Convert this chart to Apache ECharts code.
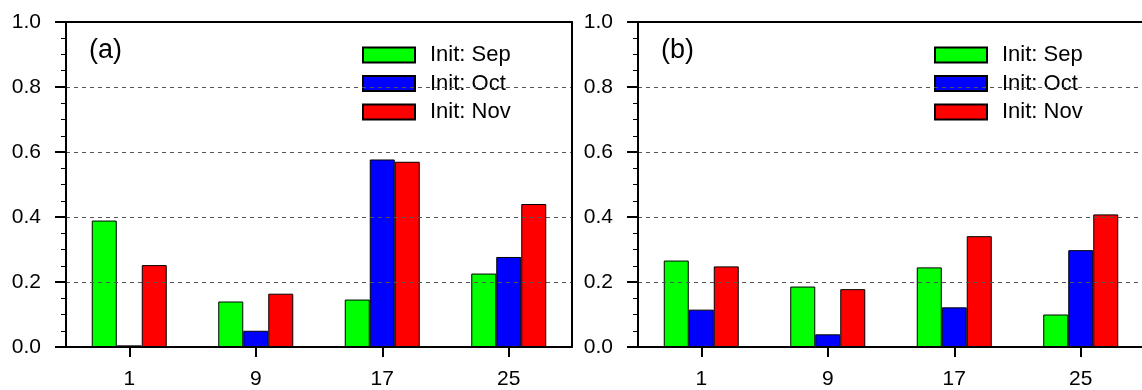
<!DOCTYPE html>
<html>
<head>
<meta charset="utf-8">
<script src="https://cdn.jsdelivr.net/npm/echarts@6/dist/echarts.min.js"></script>
<style>
html,body{margin:0;padding:0;background:#fff;overflow:hidden;}
#c{width:1150px;height:390px;}
</style>
</head>
<body>
<div id="c"></div>
<script>
// ---- data ----
var xTicks = [1, 9, 17, 25];
var seriesNames = ['Init: Sep', 'Init: Oct', 'Init: Nov'];
var panelLabels = ['(a)', '(b)'];

var aSep = [0.389, 0.140, 0.146, 0.226];
var aOct = [0.005, 0.050, 0.577, 0.277];
var aNov = [0.252, 0.164, 0.570, 0.440];

var bSep = [0.266, 0.186, 0.245, 0.100];
var bOct = [0.115, 0.039, 0.122, 0.298];
var bNov = [0.248, 0.178, 0.341, 0.408];

var colors = ['#00ff00', '#0000ff', '#ff0000'];

// ---- build ----
var FONT = 'Liberation Sans, Arial, Helvetica, sans-serif';
var panels = [
  { left: 66, legendLeft: 362, labelLeft: 89, rightSpine: true, data: [aSep, aOct, aNov] },
  { left: 638, legendLeft: 934, labelLeft: 661, rightSpine: true, data: [bSep, bOct, bNov] }
];

var grids = [], xAxes = [], yAxes = [], series = [], legends = [], titles = [];

panels.forEach(function (p, i) {
  grids.push({ left: p.left, top: 22, width: 506, height: 325, containLabel: false, outerBoundsMode: 'none' });
  xAxes.push({
    type: 'value', gridIndex: i, min: -3, max: 29, position: 'bottom', z: 6,
    axisLine: { show: true, onZero: false, lineStyle: { color: '#000', width: 2 } },
    axisTick: { show: true, customValues: xTicks, length: 10, inside: false, lineStyle: { color: '#000', width: 2 } },
    axisLabel: { show: true, customValues: xTicks, margin: 22, color: '#000', fontSize: 21, fontFamily: FONT },
    splitLine: { show: false }
  });
  xAxes.push({
    type: 'value', gridIndex: i, min: -3, max: 29, position: 'top', z: 6,
    axisLine: { show: true, onZero: false, lineStyle: { color: '#000', width: 2 } },
    axisTick: { show: false }, axisLabel: { show: false }, splitLine: { show: false }
  });
  yAxes.push({
    type: 'value', gridIndex: i, min: 0, max: 1, interval: 0.2, position: 'left', z: 5,
    axisLine: { show: true, onZero: false, lineStyle: { color: '#000', width: 2 } },
    axisTick: { show: true, length: 11, inside: false, lineStyle: { color: '#000', width: 2 } },
    minorTick: { show: true, splitNumber: 4, length: 5, lineStyle: { color: '#000', width: 1 } },
    axisLabel: { margin: 25, color: '#000', fontSize: 21, fontFamily: FONT,
      formatter: function (v) { return v.toFixed(1); } },
    splitLine: { show: true, lineStyle: { color: '#555', width: 1, type: [4, 4] } },
    minorSplitLine: { show: false }
  });
  yAxes.push({
    type: 'value', gridIndex: i, min: 0, max: 1, interval: 0.2, position: 'right', z: 6,
    axisLine: { show: p.rightSpine, onZero: false, lineStyle: { color: '#000', width: 2 } },
    axisTick: { show: false }, axisLabel: { show: false }, splitLine: { show: false }
  });

  p.data.forEach(function (vals, k) {
    series.push({
      type: 'bar', name: seriesNames[k],
      xAxisIndex: i * 2, yAxisIndex: i * 2,
      barWidth: 25, barGap: '0%',
      itemStyle: { color: colors[k], borderColor: '#000', borderWidth: 1 },
      emphasis: { disabled: true },
      data: xTicks.map(function (x, j) { return [x, vals[j]]; })
    });
  });

  legends.push({
    orient: 'vertical', left: p.legendLeft, top: 44, padding: 0,
    itemWidth: 52, itemHeight: 15, itemGap: 6.5, icon: 'rect',
    selectedMode: false,
    data: seriesNames,
    textStyle: { color: '#000', fontSize: 22, lineHeight: 22, fontFamily: FONT, padding: [0, 0, 0, 10] }
  });

  titles.push({
    text: panelLabels[i], left: p.labelLeft, top: 37, padding: 0,
    textStyle: { color: '#000', fontSize: 27, fontWeight: 'normal', fontFamily: FONT }
  });
});

var chart = echarts.init(document.getElementById('c'), null, { renderer: 'canvas' });
chart.setOption({
  animation: false,
  backgroundColor: '#fff',
  title: titles,
  legend: legends,
  grid: grids,
  xAxis: xAxes,
  yAxis: yAxes,
  series: series
});
</script>
</body>
</html>
